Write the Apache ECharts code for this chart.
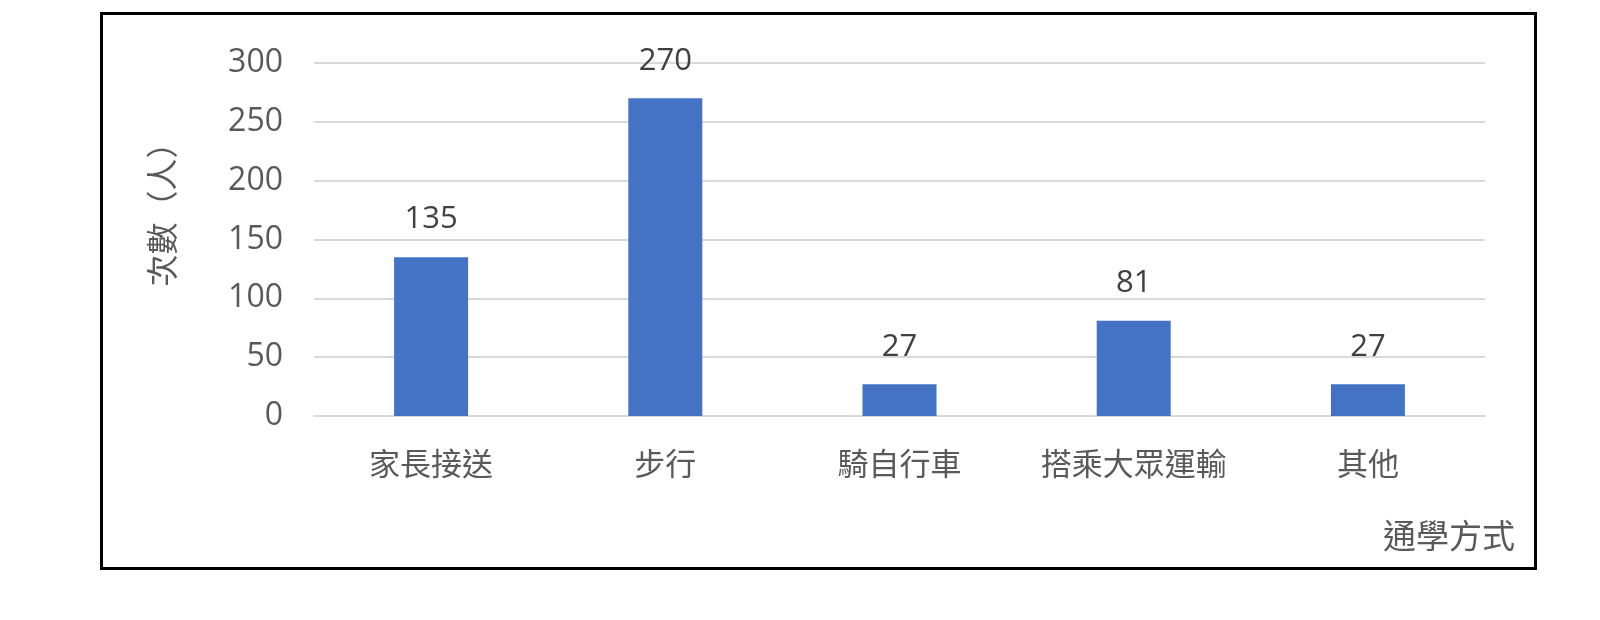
<!DOCTYPE html>
<html>
<head>
<meta charset="utf-8">
<script src="https://cdn.jsdelivr.net/npm/echarts@6/dist/echarts.min.js"></script>
<style>
html,body{margin:0;padding:0;background:#fff;}
#frame{position:absolute;left:100px;top:12px;width:1431px;height:552px;border:3px solid #000;}
#main{position:absolute;left:0;top:0;width:1600px;height:620px;}
</style>
</head>
<body>
<div id="frame"></div>
<div id="main"></div>
<script>
// 通學方式
var categories=['家長接送','步行','騎自行車','搭乘大眾運輸','其他'];
var counts=[135,270,27,81,27];
var yTicks=[0,50,100,150,200,250,300];

var cjk='"Noto Sans CJK TC", "Noto Sans CJK SC", sans-serif';
var num='"Open Sans", "Noto Sans", sans-serif';

var myChart=echarts.init(document.getElementById('main'));
var option={
    animation:false,
    grid:{left:314,right:115,top:63,bottom:204,containLabel:false},
    xAxis:{
        type:'category',
        data:categories,
        axisLine:{lineStyle:{color:'#d9d9d9',width:2}},
        axisTick:{show:false},
        axisLabel:{
            interval:0,
            color:'#595959',
            fontFamily:cjk,
            fontSize:31,
            margin:32
        },
        name:'通學方式',
        nameLocation:'end',
        nameGap:30,
        nameTextStyle:{
            color:'#595959',
            fontFamily:cjk,
            fontSize:33,
            align:'right',
            verticalAlign:'top',
            padding:[103,0,0,0]
        }
    },
    yAxis:{
        type:'value',
        min:yTicks[0],
        max:yTicks[yTicks.length-1],
        interval:50,
        axisLine:{show:false},
        axisTick:{show:false},
        splitLine:{lineStyle:{color:'#d9d9d9',width:2}},
        axisLabel:{
            color:'#595959',
            fontFamily:num,
            fontSize:32,
            margin:31
        },
        name:'次數（人）',
        nameLocation:'middle',
        nameRotate:90,
        nameGap:136,
        nameTextStyle:{
            color:'#595959',
            fontFamily:cjk,
            fontSize:32,
            padding:[0,0,0,66]
        }
    },
    series:[{
        type:'bar',
        data:counts,
        barWidth:74,
        itemStyle:{color:'#4472c4'},
        label:{
            show:true,
            position:'top',
            distance:22,
            color:'#404040',
            fontFamily:num,
            fontSize:31
        }
    }]
};
myChart.setOption(option);
</script>
</body>
</html>
